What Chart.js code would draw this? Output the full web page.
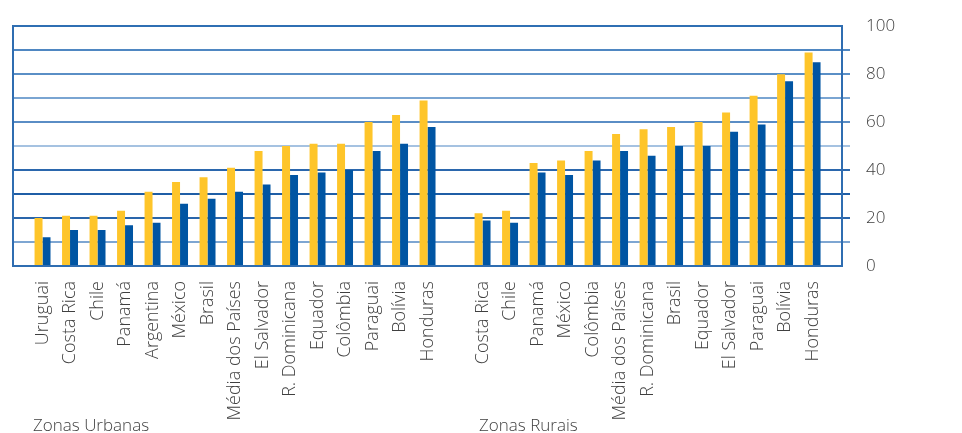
<!DOCTYPE html>
<html>
<head>
<meta charset="utf-8">
<script src="https://cdn.jsdelivr.net/npm/chart.js@4.4.1/dist/chart.umd.min.js"></script>
<style>
  html, body { margin: 0; padding: 0; background: #ffffff; }
  #wrap { position: relative; width: 962px; height: 433px; }
</style>
</head>
<body>
<div id="wrap"><canvas id="c" width="962" height="433"></canvas></div>
<script>
// ---- data ----
const urbanCategories = ["Uruguai","Costa Rica","Chile","Panamá","Argentina","México","Brasil","Média dos Países","El Salvador","R. Dominicana","Equador","Colômbia","Paraguai","Bolívia","Honduras"];
const urbanYellow = [20, 21, 21, 23, 31, 35, 37, 41, 48, 50, 51, 51, 60, 63, 69];
const urbanBlue   = [12, 15, 15, 17, 18, 26, 28, 31, 34, 38, 39, 40, 48, 51, 58];

const ruralCategories = ["Costa Rica","Chile","Panamá","México","Colômbia","Média dos Países","R. Dominicana","Brasil","Equador","El Salvador","Paraguai","Bolívia","Honduras"];
const ruralYellow = [22, 23, 43, 44, 48, 55, 57, 58, 60, 64, 71, 80, 89];
const ruralBlue   = [19, 18, 39, 38, 44, 48, 46, 50, 50, 56, 59, 77, 85];

const groupTitles = ["Zonas Urbanas", "Zonas Rurais"];
const yTickValues = [0, 20, 40, 60, 80, 100];

// ---- build ----
const allCategories = [...urbanCategories, "", ...ruralCategories];
function toPoints(a, b) {
  const vals = [...a, null, ...b];
  const pts = [];
  vals.forEach((v, i) => { if (v !== null) pts.push({ x: i, y: v }); });
  return pts;
}

const YELLOW = '#FEC52A';
const BLUE = '#0055A3';
const FRAME = '#2f6db1';
const TEXT = '#404040';
const gridShades = ['#1f5ea6', '#7ea6d2', '#2a66ab', '#1f5ea6', '#2b67ad', '#a5c2e1', '#5a8dc5', '#7aa5d2', '#5a8fc6', '#4f87c2', '#2f6fb3'];
const FONT = "'Open Sans', 'Noto Sans', sans-serif";

const titlesPlugin = {
  id: 'groupTitles',
  afterDraw(chart) {
    const ctx = chart.ctx;
    ctx.save();
    ctx.font = "300 17px " + FONT;
    ctx.fillStyle = TEXT;
    ctx.textBaseline = 'alphabetic';
    ctx.textAlign = 'left';
    ctx.fillText(groupTitles[0], 33, 431);
    ctx.fillText(groupTitles[1], 479, 431);
    ctx.restore();
  }
};

new Chart(document.getElementById('c'), {
  type: 'bar',
  data: {
    datasets: [
      { label: 'Série 1', data: toPoints(urbanYellow, ruralYellow), backgroundColor: YELLOW },
      { label: 'Série 2', data: toPoints(urbanBlue, ruralBlue), backgroundColor: BLUE }
    ]
  },
  options: {
    responsive: false,
    animation: false,
    categoryPercentage: 0.58,
    barPercentage: 1.0,
    layout: { padding: { left: 12, top: 25, right: 0, bottom: 0 } },
    plugins: { legend: { display: false }, tooltip: { enabled: false } },
    scales: {
      x: {
        type: 'linear',
        position: 'bottom',
        min: -1.07,
        max: 29.07,
        offset: false,
        grid: { display: false, drawTicks: false },
        border: { display: true, color: FRAME, width: 2 },
        ticks: {
          stepSize: 1,
          includeBounds: false,
          autoSkip: false,
          maxRotation: 90,
          minRotation: 90,
          padding: 15,
          color: TEXT,
          font: { family: FONT, size: 18, weight: 300 },
          callback: (v) => (Number.isInteger(v) && v >= 0 && v < allCategories.length) ? allCategories[v] : ''
        },
        afterFit: (s) => { s.height = 433 - 25 - 241; }
      },
      y: {
        position: 'right',
        min: 0,
        max: 100,
        grid: {
          color: (c) => gridShades[Math.round(c.tick.value / 10)],
          lineWidth: 2,
          drawTicks: true,
          tickLength: 8,
          tickColor: (c) => (c.tick.value === 0 || c.tick.value === 100) ? 'rgba(0,0,0,0)' : gridShades[Math.round(c.tick.value / 10)],
          tickWidth: 2
        },
        border: { display: true, color: FRAME, width: 2 },
        ticks: {
          stepSize: 10,
          padding: 16,
          color: TEXT,
          font: { family: FONT, size: 17, weight: 300 },
          callback: (v) => yTickValues.includes(v) ? String(v) : ''
        },
        afterFit: (s) => { s.width = 120; }
      },
      yLeft: {
        position: 'left',
        min: 0,
        max: 100,
        grid: { display: false, drawTicks: false },
        border: { display: true, color: FRAME, width: 2 },
        ticks: { display: false },
        afterFit: (s) => { s.width = 0; }
      }
    }
  },
  plugins: [titlesPlugin]
});
</script>
</body>
</html>
